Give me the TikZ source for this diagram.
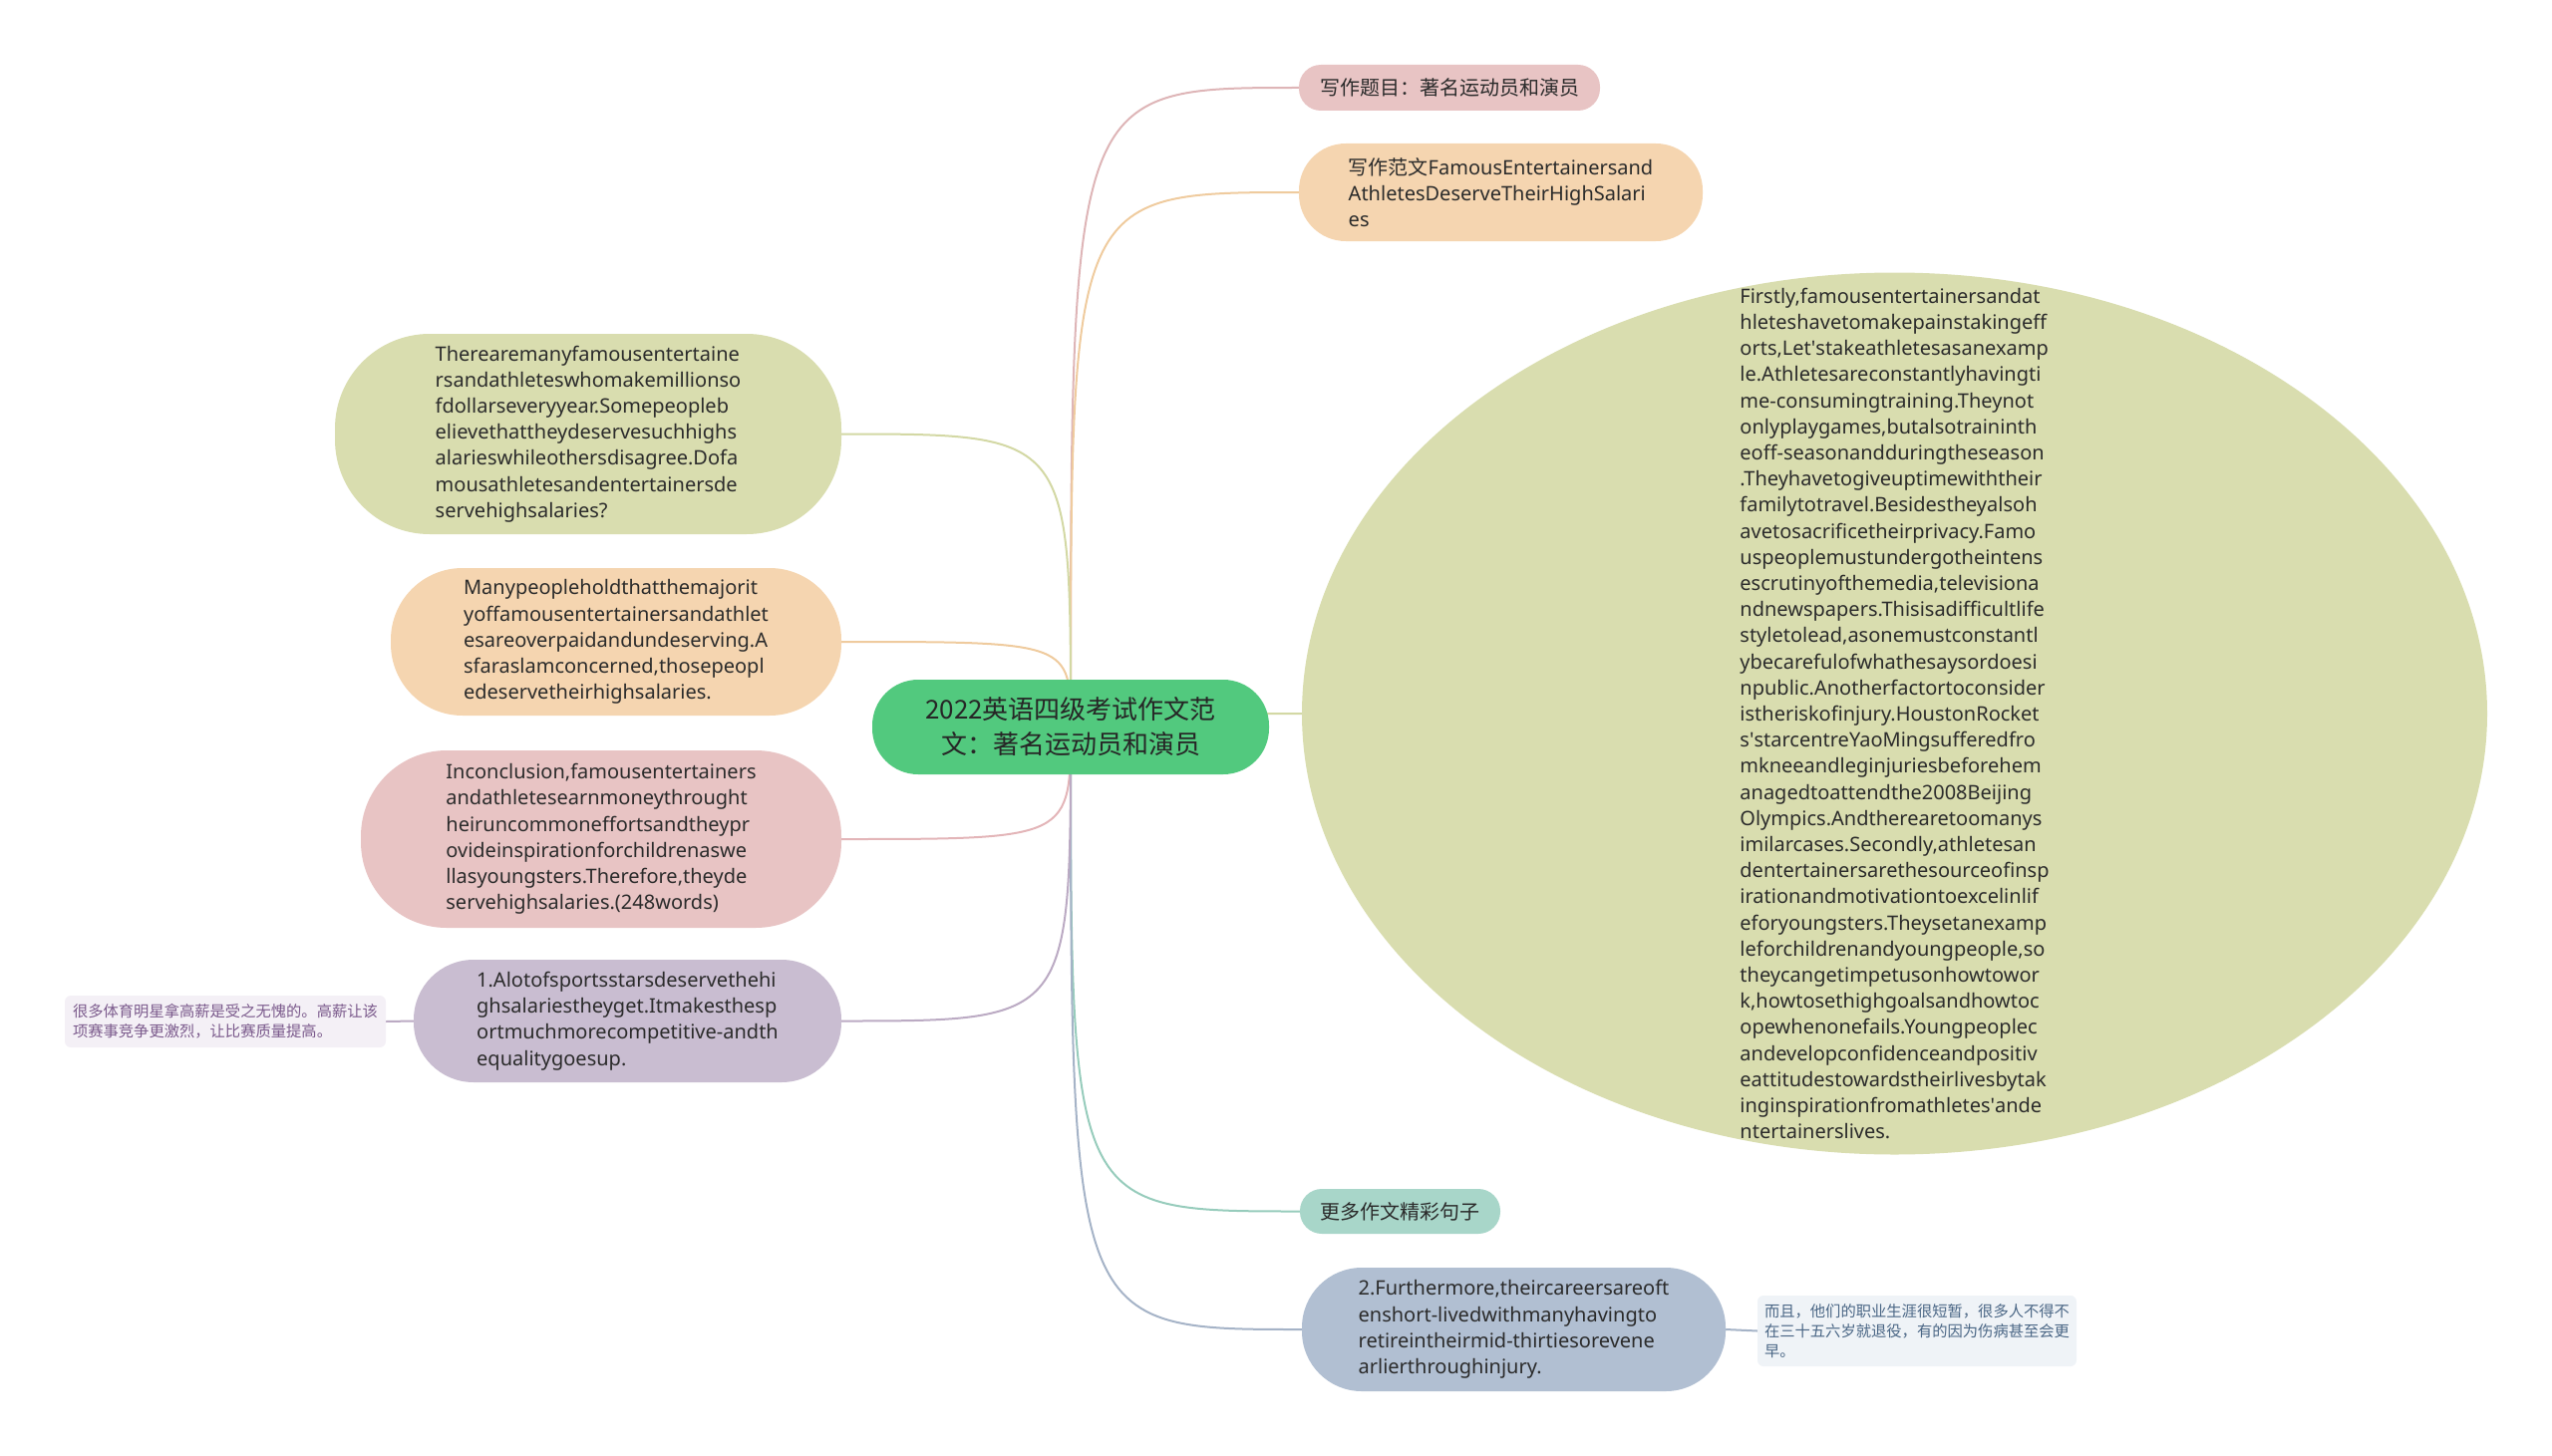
\documentclass[tikz,border=0pt]{standalone}
\usepackage{fontspec}
\setmainfont{Noto Sans}
\newfontfamily\cjk{Noto Sans CJK SC}
\usetikzlibrary{shapes.geometric}
\pgfdeclarelayer{bg}
\pgfsetlayers{bg,main}
\definecolor{cgreen}{HTML}{52C97E}
\definecolor{cpink}{HTML}{E8C4C4}
\definecolor{cpeach}{HTML}{F5D5B0}
\definecolor{colive}{HTML}{D9DDAF}
\definecolor{cteal}{HTML}{A8D6C9}
\definecolor{cblue}{HTML}{B1BFD2}
\definecolor{clav}{HTML}{C9BDD1}
\definecolor{nlav}{HTML}{F4F0F6}
\definecolor{nblue}{HTML}{EFF3F7}
\definecolor{tlav}{HTML}{7B5A8C}
\definecolor{tblue}{HTML}{4A6685}
\definecolor{epink}{HTML}{DEB5B7}
\definecolor{epeach}{HTML}{EFCB9E}
\definecolor{eolive}{HTML}{D3D8A4}
\definecolor{eteal}{HTML}{97CCBC}
\definecolor{eblue}{HTML}{A5B3C7}
\definecolor{elav}{HTML}{BBAAC3}
\definecolor{ered}{HTML}{E3B5B8}
\definecolor{txt}{HTML}{2B2B2B}
\begin{document}
\begin{tikzpicture}[x=1pt,y=-1pt,
  blob/.style={inner sep=0pt, align=left, text=txt, font=\fontsize{20}{26.2}\selectfont},
  note/.style={inner sep=0pt, align=left, rounded corners=6pt, font=\cjk\fontsize{15.3}{20.3}\selectfont},
  link/.style={line width=2pt}]
\useasboundingbox (0,0) rectangle (2560,1461);

\node[blob, fill=cgreen, minimum width=398pt, minimum height=95pt, rounded corners=46pt, align=center, text=black!85, font=\cjk\fontsize{26}{35}\selectfont] (c) at (1074,729.5) {2022英语四级考试作文范\\文：著名运动员和演员};

\node[blob, fill=cpink, minimum width=302pt, minimum height=46pt, rounded corners=22pt, font=\cjk\fontsize{20}{26}\selectfont] (t1) at (1454,88) {写作题目：著名运动员和演员};

\node[blob, fill=cpeach, minimum width=405pt, minimum height=98pt, rounded corners=47pt] (t2) at (1505.5,193) {{\cjk 写作范文}FamousEntertainersand\\AthletesDeserveTheirHighSalari\\es};

\node[ellipse, fill=colive, inner sep=0pt, minimum width=1189pt, minimum height=885pt] (e) at (1900.5,716) {};
\node[blob] (et) at (e.center) {Firstly,famousentertainersandat\\
hleteshavetomakepainstakingeff\\
orts,Let\textquotesingle stakeathletesasanexamp\\
le.Athletesareconstantlyhavingti\\
me-consumingtraining.Theynot\\
onlyplaygames,butalsotraininth\\
eoff-seasonandduringtheseason\\
.Theyhavetogiveuptimewiththeir\\
familytotravel.Besidestheyalsoh\\
avetosacrificetheirprivacy.Famo\\
uspeoplemustundergotheintens\\
escrutinyofthemedia,televisiona\\
ndnewspapers.Thisisadifficultlife\\
styletolead,asonemustconstantl\\
ybecarefulofwhathesaysordoesi\\
npublic.Anotherfactortoconsider\\
istheriskofinjury.HoustonRocket\\
s\textquotesingle starcentreYaoMingsufferedfro\\
mkneeandleginjuriesbeforehem\\
anagedtoattendthe2008Beijing\\
Olympics.Andtherearetoomanys\\
imilarcases.Secondly,athletesan\\
dentertainersarethesourceofinsp\\
irationandmotivationtoexcelinlif\\
eforyoungsters.Theysetanexamp\\
leforchildrenandyoungpeople,so\\
theycangetimpetusonhowtowor\\
k,howtosethighgoalsandhowtoc\\
opewhenonefails.Youngpeoplec\\
andevelopconfidenceandpositiv\\
eattitudestowardstheirlivesbytak\\
inginspirationfromathletes\textquotesingle ande\\
ntertainerslives.};

\node[blob, fill=cteal, minimum width=201pt, minimum height=45pt, rounded corners=22pt, font=\cjk\fontsize{20}{26}\selectfont] (t4) at (1404.5,1215.5) {更多作文精彩句子};

\node[blob, fill=cblue, minimum width=425pt, minimum height=124pt, rounded corners=60pt] (t5) at (1518.5,1334) {2.Furthermore,theircareersareoft\\enshort-livedwithmanyhavingto\\retireintheirmid-thirtiesorevene\\arlierthroughinjury.};

\node[note, fill=nblue, text=tblue, minimum width=320pt, minimum height=71pt] (n5) at (1923,1335.5) {而且，他们的职业生涯很短暂，很多人不得不\\在三十五六岁就退役，有的因为伤病甚至会更\\早。};

\node[blob, fill=colive, minimum width=508pt, minimum height=201pt, rounded corners=95pt] (l1) at (590,435.5) {Therearemanyfamousentertaine\\rsandathleteswhomakemillionso\\fdollarseveryyear.Somepeopleb\\elievethattheydeservesuchhighs\\alarieswhileothersdisagree.Dofa\\mousathletesandentertainersde\\servehighsalaries?};

\node[blob, fill=cpeach, minimum width=452pt, minimum height=148pt, rounded corners=72pt] (l2) at (618,644) {Manypeopleholdthatthemajorit\\yoffamousentertainersandathlet\\esareoverpaidandundeserving.A\\sfaraslamconcerned,thosepeopl\\edeservetheirhighsalaries.};

\node[blob, fill=cpink, minimum width=482pt, minimum height=178pt, rounded corners=86pt] (l3) at (603,842) {Inconclusion,famousentertainers\\andathletesearnmoneythrought\\heiruncommoneffortsandtheypr\\ovideinspirationforchildrenaswe\\llasyoungsters.Therefore,theyde\\servehighsalaries.(248words)};

\node[blob, fill=clav, minimum width=429pt, minimum height=123pt, rounded corners=60pt] (l4) at (629.5,1024.5) {1.Alotofsportsstarsdeservethehi\\ghsalariestheyget.Itmakesthesp\\ortmuchmorecompetitive-andth\\equalitygoesup.};

\node[note, fill=nlav, text=tlav, minimum width=322pt, minimum height=52pt] (n4) at (226,1025) {很多体育明星拿高薪是受之无愧的。高薪让该\\项赛事竞争更激烈，让比赛质量提高。};

\begin{pgfonlayer}{bg}
\draw[link, draw=epink] (c.center) .. controls (c.center |- t1.west) .. (t1.west);
\draw[link, draw=epeach] (c.center) .. controls (c.center |- t2.west) .. (t2.west);
\draw[link, draw=eolive] (c.center) .. controls (c.center |- e.west) .. (e.west);
\draw[link, draw=eteal] (c.center) .. controls (c.center |- t4.west) .. (t4.west);
\draw[link, draw=eblue] (c.center) .. controls (c.center |- t5.west) .. (t5.west);
\draw[link, draw=eolive] (c.center) .. controls (c.center |- l1.east) .. (l1.east);
\draw[link, draw=epeach] (c.center) .. controls (c.center |- l2.east) .. (l2.east);
\draw[link, draw=ered] (c.center) .. controls (c.center |- l3.east) .. (l3.east);
\draw[link, draw=elav] (c.center) .. controls (c.center |- l4.east) .. (l4.east);
\draw[link, draw=elav] (l4.west) -- (n4.east);
\draw[link, draw=eblue] (t5.east) -- (n5.west);
\end{pgfonlayer}
\end{tikzpicture}
\end{document}
